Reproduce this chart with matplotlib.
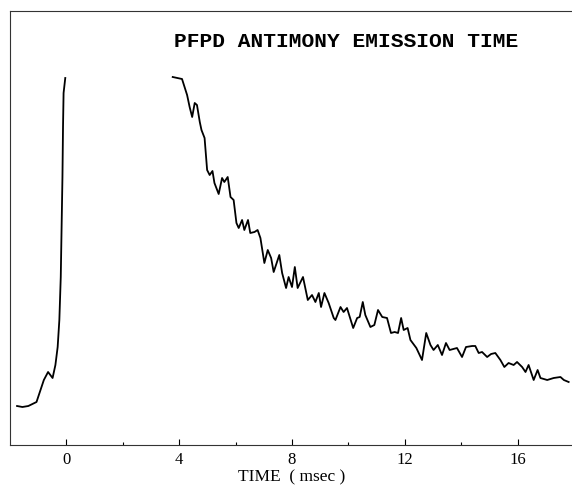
"""PFPD antimony emission time trace, redrawn from a scanned figure."""

import matplotlib

matplotlib.use("Agg")
import matplotlib.pyplot as plt

# Pre-trigger rise (time in msec, intensity in arbitrary units)
rise_t = [-1.75, -1.56, -1.35, -1.06, -0.80, -0.65, -0.49, -0.39, -0.31,
          -0.25, -0.20, -0.17, -0.14, -0.12, -0.10, -0.04]
rise_i = [39, 38, 39, 43, 65, 73, 67, 80, 98,
          125, 168, 218, 268, 318, 352, 367]

# Emission decay after the detector recovers
decay_t = [3.77, 4.10, 4.19, 4.28, 4.37, 4.46, 4.55, 4.63, 4.73, 4.79,
           4.90, 4.99, 5.08, 5.18, 5.25, 5.40, 5.52, 5.60, 5.72, 5.82,
           5.93, 6.03, 6.11, 6.23, 6.31, 6.44, 6.52, 6.67, 6.78, 6.88,
           7.02, 7.14, 7.26, 7.35, 7.55, 7.65, 7.79, 7.88, 8.00, 8.10,
           8.20, 8.39, 8.56, 8.71, 8.83, 8.95, 9.03, 9.15, 9.30, 9.48,
           9.54, 9.72, 9.83, 9.95, 10.17, 10.31, 10.40, 10.51, 10.60, 10.78,
           10.92, 11.05, 11.20, 11.37, 11.51, 11.64, 11.76, 11.87, 11.96, 12.10,
           12.20, 12.41, 12.61, 12.76, 12.91, 13.02, 13.17, 13.32, 13.46, 13.59,
           13.85, 14.03, 14.17, 14.39, 14.50, 14.62, 14.74, 14.92, 15.06, 15.21,
           15.39, 15.53, 15.68, 15.86, 15.98, 16.16, 16.28, 16.39, 16.57, 16.71,
           16.81, 17.05, 17.28, 17.52, 17.64, 17.81]
decay_i = [368, 366, 358, 350, 338, 328, 342, 340, 323, 315,
           307, 275, 270, 274, 262, 251, 267, 263, 268, 248,
           245, 222, 217, 225, 215, 225, 212, 213, 215, 207,
           182, 195, 187, 173, 190, 172, 157, 168, 158, 178,
           157, 168, 145, 150, 143, 152, 138, 152, 142, 127,
           125, 138, 133, 137, 117, 127, 128, 143, 130, 118,
           120, 135, 128, 127, 112, 113, 112, 127, 115, 117,
           105, 97, 85, 112, 100, 95, 100, 90, 102, 95,
           97, 88, 98, 99, 99, 92, 93, 88, 91, 92,
           85, 78, 82, 80, 83, 78, 73, 80, 65, 75,
           67, 65, 67, 68, 65, 63]

major_ticks = [0, 4, 8, 12, 16]
minor_ticks = [2, 6, 10, 14]


def main() -> None:
    fig = plt.figure(figsize=(5.72, 4.91), dpi=100)
    ax = fig.add_axes([10 / 572, 46 / 491, 564 / 572, 434 / 491])

    ax.plot(rise_t, rise_i, color="black", linewidth=1.3)
    ax.plot(decay_t, decay_i, color="black", linewidth=1.3)

    ax.set_xlim(-2, 18)
    ax.set_ylim(0, 434)

    ax.spines["right"].set_visible(False)
    for side in ("left", "top", "bottom"):
        ax.spines[side].set_linewidth(0.8)
        ax.spines[side].set_color("#333333")

    ax.set_yticks([])
    ax.set_xticks(major_ticks)
    ax.set_xticks(minor_ticks, minor=True)
    ax.tick_params(axis="x", which="major", direction="in", length=4,
                   width=0.8, pad=5)
    ax.tick_params(axis="x", which="minor", direction="in", length=2.5,
                   width=0.8)
    for lab in ax.get_xticklabels():
        lab.set_fontfamily("Liberation Serif")
        lab.set_fontsize(12)

    ax.set_xlabel("TIME  ( msec )", fontfamily="Liberation Serif",
                  fontsize=12.5, labelpad=1)

    fig.text(346 / 572, 1 - 41.5 / 491, "PFPD ANTIMONY EMISSION TIME",
             fontfamily="Liberation Mono", fontweight="bold", fontsize=15.3,
             ha="center", va="center")

    fig.savefig("out.png", dpi=100)


if __name__ == "__main__":
    main()
